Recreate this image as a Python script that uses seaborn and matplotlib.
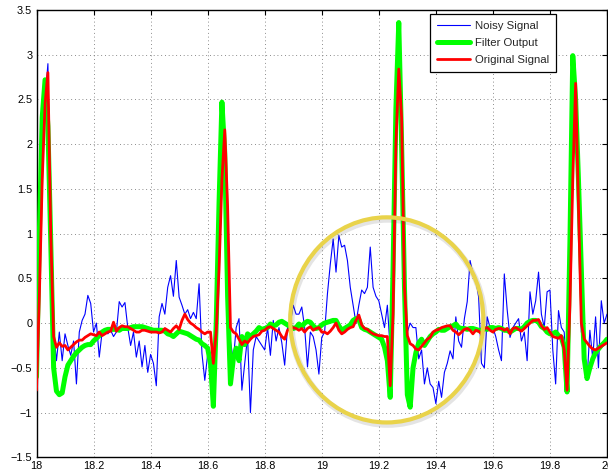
import numpy as np
import matplotlib
matplotlib.use("Agg")
import matplotlib.pyplot as plt
import seaborn as sns
from matplotlib.patches import Ellipse
from matplotlib.ticker import FuncFormatter

# sample times: 18.00 s to 20.00 s, one sample every 10 ms
t = np.round(np.linspace(18.0, 20.0, 201), 2)

noisy = [
    -0.6, 0.4, 1.7, 2.5, 2.9, 1.1, -0.1, -0.42, -0.1, -0.42,
    -0.12, -0.25, -0.36, -0.2, -0.68, -0.1, 0.03, 0.1, 0.31, 0.22,
    -0.1, 0.0, -0.38, -0.1, -0.08, -0.12, -0.08, -0.15, -0.1, 0.24,
    0.18, 0.23, -0.05, -0.25, -0.1, -0.38, -0.2, -0.49, -0.25, -0.55,
    -0.35, -0.45, -0.7, 0.07, 0.22, 0.1, 0.4, 0.53, 0.3, 0.7,
    0.29, 0.2, 0.1, 0.15, 0.05, 0.12, 0.05, 0.44, -0.34, -0.64,
    -0.35, -0.45, -0.5, -0.05, 0.6, 1.5, 2.1, 1.2, -0.2, -0.42,
    -0.05, 0.05, -0.75, -0.45, -0.15, -1.0, -0.3, -0.15, -0.2, -0.25,
    -0.3, -0.05, -0.36, 0.03, -0.2, -0.05, -0.22, -0.47, -0.05, 0.0,
    0.2, 0.1, 0.1, 0.18, -0.05, -0.49, -0.1, -0.15, -0.3, -0.57,
    -0.16, -0.1, 0.33, 0.66, 0.94, 0.57, 0.98, 0.85, 0.87, 0.7,
    0.4, 0.2, 0.0, 0.2, 0.37, 0.33, 0.4, 0.85, 0.4, 0.3,
    0.25, 0.1, -0.05, 0.2, -0.3, 0.3, 1.8, 2.7, 2.4, 0.4,
    -0.1, 0.0, -0.05, -0.05, -0.4, -0.3, -0.68, -0.5, -0.68, -0.72,
    -0.9, -0.65, -0.83, -0.55, -0.45, -0.31, -0.4, 0.07, -0.2, -0.27,
    0.05, 0.24, 0.7, 0.55, 0.5, 0.29, -0.45, -0.5, 0.07, -0.05,
    -0.05, -0.15, -0.3, -0.42, 0.55, 0.15, -0.16, -0.05, 0.0, 0.05,
    -0.2, -0.1, -0.42, 0.35, 0.1, 0.25, 0.57, 0.1, -0.05, 0.35,
    0.37, -0.3, -0.68, 0.14, -0.05, -0.1, -0.7, 0.3, 1.7, 2.7,
    1.3, -0.1, -0.2, -0.64, -0.08, -0.4, 0.07, -0.5, 0.25, 0.0, 0.1,
]

filtered = [
    -0.6, 1.0, 2.3, 2.72, 2.2, 0.9, -0.5, -0.76, -0.8, -0.78,
    -0.6, -0.47, -0.42, -0.37, -0.33, -0.3, -0.27, -0.25, -0.24, -0.24,
    -0.2, -0.17, -0.14, -0.1, -0.08, -0.07, -0.07, -0.07, -0.07, -0.08,
    -0.06, -0.06, -0.06, -0.05, -0.04, -0.04, -0.04, -0.04, -0.05, -0.06,
    -0.07, -0.08, -0.08, -0.08, -0.08, -0.09, -0.12, -0.13, -0.15, -0.12,
    -0.09, -0.1, -0.11, -0.12, -0.14, -0.16, -0.18, -0.19, -0.23, -0.25,
    -0.28, -0.45, -0.93, 0.0, 1.35, 2.47, 1.9, 0.3, -0.68, -0.4,
    -0.28, -0.42, -0.15, -0.24, -0.12, -0.15, -0.12, -0.09, -0.05, -0.07,
    -0.06, -0.05, -0.01, -0.03, -0.02, 0.01, 0.02, 0.0, -0.02, -0.04,
    -0.06, -0.05, -0.01, -0.04, 0.0, 0.02, 0.01, -0.03, -0.06, -0.05,
    -0.02, 0.0, 0.01, 0.02, 0.03, 0.03, -0.03, -0.08, -0.06, -0.04,
    -0.02, 0.03, 0.05, 0.04, -0.05, -0.07, -0.08, -0.1, -0.12, -0.14,
    -0.16, -0.18, -0.27, -0.42, -0.83, 0.6, 2.4, 3.36, 2.0, 0.4,
    -0.8, -0.94, -0.5, -0.33, -0.22, -0.18, -0.25, -0.2, -0.15, -0.12,
    -0.1, -0.07, -0.08, -0.08, -0.06, -0.04, -0.03, -0.01, -0.05, -0.06,
    -0.06, -0.07, -0.06, -0.06, -0.07, -0.08, -0.08, -0.06, -0.07, -0.05,
    -0.05, -0.06, -0.05, -0.06, -0.08, -0.08, -0.1, -0.08, -0.06, -0.06,
    -0.07, -0.04, 0.0, 0.02, 0.03, 0.03, 0.01, -0.04, -0.06, -0.1,
    -0.12, -0.12, -0.1, -0.14, -0.16, -0.27, -0.77, 0.9, 2.99, 2.5,
    1.6, 0.6, -0.4, -0.62, -0.5, -0.4, -0.33, -0.29, -0.25, -0.22, -0.18,
]

original = [
    -0.75, 0.3, 1.6, 2.45, 2.8, 1.0, -0.15, -0.27, -0.22, -0.26,
    -0.25, -0.3, -0.27, -0.24, -0.21, -0.19, -0.19, -0.16, -0.14, -0.12,
    -0.13, -0.14, -0.1, -0.14, -0.12, -0.1, -0.09, 0.01, -0.09, -0.05,
    -0.03, -0.04, -0.04, -0.06, -0.08, -0.1, -0.1, -0.08, -0.08, -0.09,
    -0.1, -0.1, -0.1, -0.11, -0.1, -0.06, -0.08, -0.1, -0.06, -0.03,
    -0.07, 0.03, 0.1, 0.04, 0.0, -0.02, -0.05, -0.07, -0.1, -0.12,
    -0.1, -0.1, -0.45, -0.1, 0.6, 1.6, 2.16, 1.3, -0.05, -0.1,
    -0.12, -0.18, -0.24, -0.2, -0.22, -0.18, -0.15, -0.14, -0.13, -0.09,
    -0.08, -0.05, -0.04, -0.06, -0.08, -0.1, -0.15, -0.18, -0.08, -0.06,
    -0.05, -0.06, -0.08, -0.06, -0.1, -0.06, -0.04, -0.08, -0.06, -0.05,
    -0.1, -0.1, -0.12, -0.09, -0.05, 0.0, -0.08, -0.12, -0.1, -0.07,
    -0.05, -0.04, 0.03, 0.09, -0.02, -0.06, -0.07, -0.1, -0.12, -0.13,
    -0.14, -0.14, -0.15, -0.15, -0.7, 0.1, 2.0, 2.84, 2.3, 0.4,
    -0.14, -0.23, -0.25, -0.29, -0.3, -0.26, -0.22, -0.18, -0.16, -0.1,
    -0.08, -0.07, -0.05, -0.04, -0.03, -0.03, -0.08, -0.1, -0.13, -0.1,
    -0.07, -0.06, -0.08, -0.12, -0.08, -0.09, -0.12, -0.06, -0.05, -0.08,
    -0.1, -0.07, -0.06, -0.06, -0.08, -0.06, -0.12, -0.06, -0.05, -0.07,
    -0.09, -0.06, -0.03, 0.0, 0.03, 0.03, 0.04, -0.03, -0.07, -0.05,
    -0.1, -0.15, -0.16, -0.17, -0.14, -0.3, -0.75, 0.2, 1.6, 2.68,
    1.3, 0.0, -0.18, -0.22, -0.26, -0.29, -0.3, -0.28, -0.26, -0.24, -0.22,
]

x_ticks = [18, 18.2, 18.4, 18.6, 18.8, 19, 19.2, 19.4, 19.6, 19.8, 20]
y_ticks = [-1.5, -1, -0.5, 0, 0.5, 1, 1.5, 2, 2.5, 3, 3.5]

sns.set_style("white")
plt.rcParams["font.family"] = ["Liberation Sans", "DejaVu Sans"]

W, H = 608, 472
fig = plt.figure(figsize=(W / 100, H / 100), dpi=100)
left, right, top, bottom = 36.5, 607.0, 10.0, 457.3
ax = fig.add_axes([left / W, 1 - bottom / H, (right - left) / W, (bottom - top) / H])

sns.lineplot(x=t, y=noisy, ax=ax, color="#0000ff", lw=0.8,
             label="Noisy Signal", estimator=None, sort=False, zorder=3)
sns.lineplot(x=t, y=filtered, ax=ax, color="#00ff00", lw=3.6,
             label="Filter Output", estimator=None, sort=False, zorder=4)
sns.lineplot(x=t, y=original, ax=ax, color="#ff0000", lw=2.0,
             label="Original Signal", estimator=None, sort=False, zorder=5)

ax.set_xlim(18, 20)
ax.set_ylim(-1.5, 3.5)
ax.set_xticks(x_ticks)
ax.set_yticks(y_ticks)
fmt = FuncFormatter(lambda v, p: ("%g" % v).replace("-", "\u2212"))
ax.xaxis.set_major_formatter(fmt)
ax.yaxis.set_major_formatter(fmt)
ax.set_xlabel("")
ax.set_ylabel("")

ax.grid(True, linestyle=(0, (1, 3.5)), color="#666666", lw=0.6)
ax.set_axisbelow(True)
for s in ax.spines.values():
    s.set_color("black")
    s.set_linewidth(1.0)
ax.tick_params(direction="in", length=3.5, width=0.8, top=True, right=True,
               labelsize=7.8, pad=3, colors="black")

# highlight ring around the disturbed stretch
center = (19.228, 0.036)
ax.add_patch(Ellipse((center[0] + 0.004, center[1] - 0.025), 0.677, 2.293,
                     fill=False, ec=(0.3, 0.3, 0.3, 0.15), lw=4.5, zorder=9))
ax.add_patch(Ellipse(center, 0.677, 2.293, fill=False, ec="#E9D34A",
                     lw=3.0, zorder=10))

leg = ax.legend(loc="upper right", bbox_to_anchor=(0.911, 0.990), frameon=True,
                fancybox=False, edgecolor="black", framealpha=1, fontsize=8.2,
                handlelength=2.9, handletextpad=0.5, borderpad=0.6,
                labelspacing=0.62, borderaxespad=0)
leg.get_frame().set_linewidth(0.9)
leg.set_zorder(20)

fig.savefig("out.png", dpi=100)
